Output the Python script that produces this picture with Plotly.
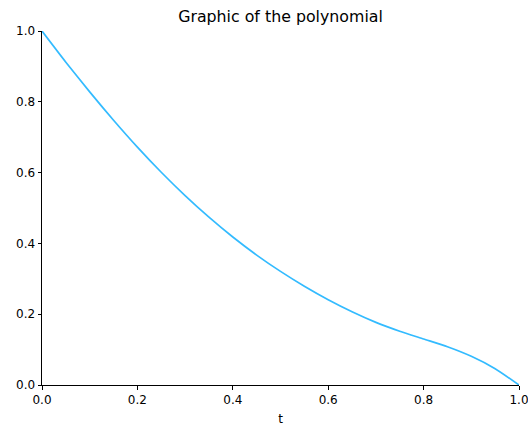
import plotly.graph_objects as go

t_values = [0.0, 0.05, 0.1, 0.15, 0.2, 0.25, 0.3, 0.35, 0.4, 0.45, 0.5, 0.55, 0.6, 0.65, 0.7, 0.75, 0.8, 0.85, 0.9, 0.95, 1.0]
p_values = [1.0, 0.912, 0.828, 0.748, 0.672, 0.601, 0.535, 0.474, 0.418, 0.367, 0.321, 0.279, 0.241, 0.207, 0.177, 0.152, 0.130, 0.108, 0.081, 0.046, 0.0]

x_ticks = [0.0, 0.2, 0.4, 0.6, 0.8, 1.0]
y_ticks = [0.0, 0.2, 0.4, 0.6, 0.8, 1.0]
tick_text = ["0.0", "0.2", "0.4", "0.6", "0.8", "1.0"]

fig = go.Figure()
fig.add_trace(go.Scatter(
    x=t_values, y=p_values, mode="lines",
    line=dict(color="#33bbff", width=1.7, shape="spline", smoothing=0.6),
    showlegend=False, hoverinfo="skip",
))

font_family = "DejaVu Sans"
axis_common = dict(
    showgrid=False, zeroline=False, showline=True, linecolor="black", linewidth=1,
    ticks="outside", ticklen=3.5, tickwidth=1, tickcolor="black", automargin=False,
    ticklabeloverflow="allow",
    tickfont=dict(family=font_family, size=12, color="black"),
)

fig.update_layout(
    width=528, height=426,
    margin=dict(l=42, r=9, t=31, b=41, autoexpand=False),
    paper_bgcolor="white", plot_bgcolor="white",
    title=dict(text="Graphic of the polynomial", x=0.5, xanchor="center", xref="paper",
               y=1 - 16 / 426, yanchor="middle", automargin=False,
               font=dict(family=font_family, size=15.8, color="black")),
    xaxis=dict(range=[0, 1], tickvals=x_ticks, ticktext=tick_text,
               title=dict(text="t", font=dict(family=font_family, size=12, color="black"), standoff=8),
               **axis_common),
    yaxis=dict(range=[0, 1], tickvals=y_ticks, ticktext=tick_text, **axis_common),
)

fig.write_html("out.html", config={"displayModeBar": False},
               post_script="document.body.style.margin='0';document.body.style.overflow='hidden';")
